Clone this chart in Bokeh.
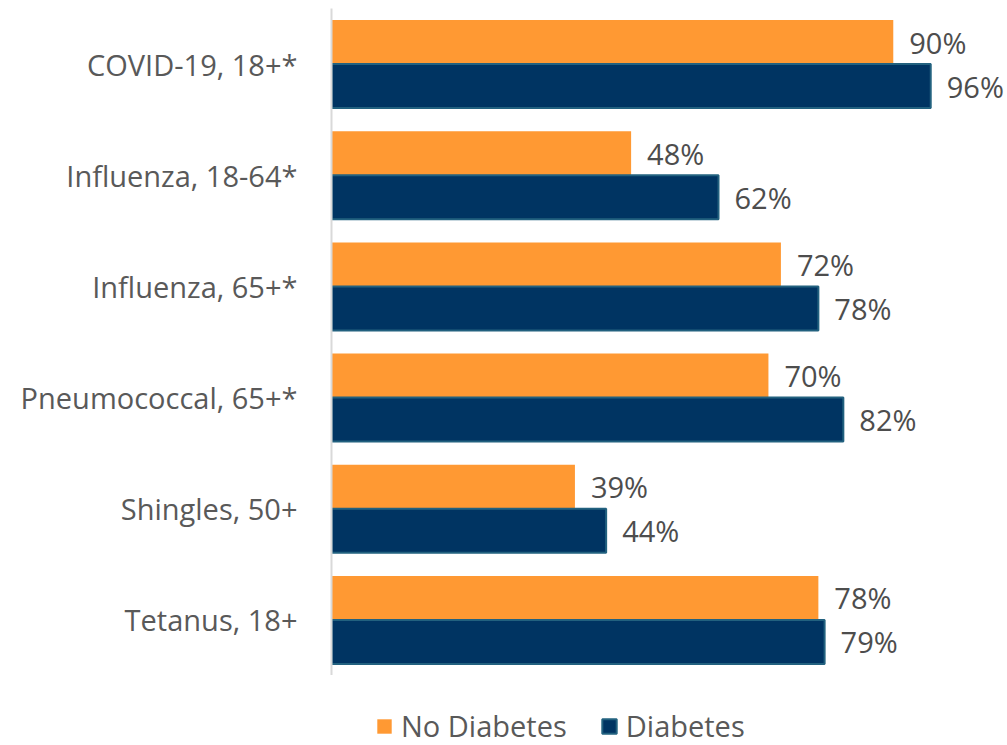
from bokeh.plotting import figure
from bokeh.layouts import column
from bokeh.models import FactorRange, Range1d, ColumnDataSource, Legend, LegendItem
from bokeh.core.properties import value
from bokeh.transform import dodge
from bokeh.embed import file_html
from bokeh.resources import INLINE

# Vaccination coverage (%) by vaccine and age group
categories = [
    "COVID-19, 18+*",
    "Influenza, 18-64*",
    "Influenza, 65+*",
    "Pneumococcal, 65+*",
    "Shingles, 50+",
    "Tetanus, 18+",
]
series_names = ["No Diabetes", "Diabetes"]
no_diabetes = [90, 48, 72, 70, 39, 78]
diabetes = [96, 62, 78, 82, 44, 79]

FONT = "Open Sans"
FS = "29px"
ORANGE = "#FF9933"
NAVY = "#003462"
NAVY_EDGE = "#22617F"
TEXT = "#595959"

src = ColumnDataSource(dict(
    cat=categories,
    nd=no_diabetes,
    d=diabetes,
    nd_lbl=[f"{v}%" for v in no_diabetes],
    d_lbl=[f"{v}%" for v in diabetes],
))

p = figure(
    y_range=FactorRange(factors=list(reversed(categories))),
    x_range=Range1d(0, 108.3),
    x_axis_location=None,
    frame_width=676, frame_height=667,
    min_border_left=331, min_border_right=0, min_border_top=8, min_border_bottom=0,
    output_backend="svg", toolbar_location=None,
)

off = 0.198
h = 0.396
bar_nd = dict(fill_color=ORANGE, line_color=None)
bar_d = dict(fill_color=NAVY, line_color=NAVY_EDGE, line_width=2)

p.hbar(y=dodge("cat", off, range=p.y_range), left=0, right="nd", height=h,
       source=src, **bar_nd)
p.hbar(y=dodge("cat", -off, range=p.y_range), left=0, right="d", height=h,
       source=src, **bar_d)

for col, lbl, dy in (("nd", "nd_lbl", off), ("d", "d_lbl", -off)):
    p.text(x=col, y=dodge("cat", dy, range=p.y_range), text=lbl, source=src,
           x_offset=16, text_baseline="middle", text_align="left",
           text_font=value(FONT), text_font_size=FS, text_color="#4D4D4D")

p.xgrid.visible = False
p.ygrid.visible = False
p.outline_line_color = None

ax = p.yaxis[0]
ax.axis_line_color = "#D9D9D9"
ax.axis_line_width = 2
ax.major_tick_line_color = None
ax.minor_tick_line_color = None
ax.major_label_standoff = 28
ax.major_label_text_font = FONT
ax.major_label_text_font_size = FS
ax.major_label_text_color = TEXT

# legend strip under the chart; its key renderers hold one zero-width bar
# placed outside the visible range so that only the legend swatches show
lg = figure(width=1007, height=70, x_range=Range1d(0, 1), y_range=Range1d(0, 1),
            x_axis_location=None, y_axis_location=None,
            min_border=0, output_backend="svg", toolbar_location=None)
lg.xgrid.visible = False
lg.ygrid.visible = False
lg.outline_line_color = None
key_src = ColumnDataSource(dict(y=[-1], left=[0], right=[0]))
k_nd = lg.hbar(y="y", left="left", right="right", height=0.5, source=key_src, **bar_nd)
k_d = lg.hbar(y="y", left="left", right="right", height=0.5, source=key_src, **bar_d)

legend = Legend(
    items=[LegendItem(label=series_names[0], renderers=[k_nd]),
           LegendItem(label=series_names[1], renderers=[k_d])],
    orientation="horizontal", location=(44, 0),
    glyph_width=18, glyph_height=18, label_standoff=8, spacing=33,
    label_text_font=FONT, label_text_font_size=FS, label_text_color=TEXT,
    border_line_color=None, background_fill_alpha=0,
    margin=0, padding=0,
)
lg.add_layout(legend, "center")

open("out.html", "w").write(file_html(column(p, lg, spacing=0), INLINE))
